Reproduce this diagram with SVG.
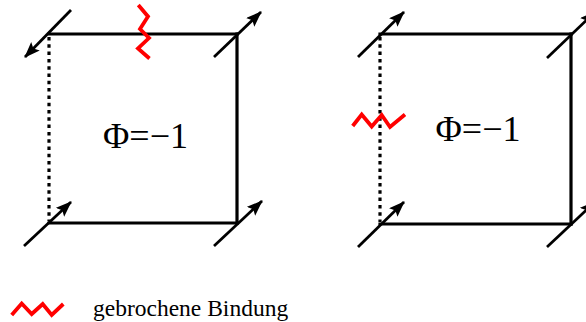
<svg xmlns="http://www.w3.org/2000/svg" width="586" height="322" viewBox="0 0 586 322">
<style>
.edge{stroke:#000;stroke-width:3.2;fill:none;stroke-linecap:square}
.dot{stroke:#000;stroke-width:3.2;fill:none;stroke-dasharray:3.5 3.8}
.spin{stroke:#000;stroke-width:2.8;fill:none;marker-end:url(#ah)}
.zz{stroke:#f00;stroke-width:3.8;fill:none;stroke-linejoin:miter}
.lbl{font-family:"Liberation Serif","Times New Roman",serif;fill:#000}
</style>
<defs>
<marker id="ah" markerUnits="userSpaceOnUse" markerWidth="18" markerHeight="14" refX="15" refY="6" orient="auto">
<path d="M0,0 L16,6 L0,12 L3,6 z" fill="#000"/>
</marker>
</defs>
<g id="connectors">
<line class="edge" x1="49" y1="34" x2="237" y2="34"/>
<line class="edge" x1="237" y1="34" x2="237" y2="223"/>
<line class="edge" x1="49" y1="223" x2="237" y2="223"/>
<line class="dot" x1="49" y1="37" x2="49" y2="221"/>
<line class="edge" x1="380" y1="34" x2="571" y2="34"/>
<line class="edge" x1="571" y1="34" x2="571" y2="224"/>
<line class="edge" x1="380" y1="224" x2="571" y2="224"/>
<line class="dot" x1="380" y1="37" x2="380" y2="222"/>
</g>
<g id="square1">
<line class="spin" x1="71" y1="10" x2="25" y2="57"/>
<line class="spin" x1="214" y1="57" x2="261" y2="12"/>
<line class="spin" x1="24" y1="246" x2="71" y2="202"/>
<line class="spin" x1="214" y1="246" x2="262" y2="201"/>
<polyline class="zz" points="138.3,5 148,16.5 140,29 149,38 138,48.5 149.5,58.5"/>
<text class="lbl" x="145.5" y="148" font-size="36" text-anchor="middle">Φ=−1</text>
</g>
<g id="square2">
<line class="spin" x1="358" y1="57" x2="404" y2="12"/>
<line class="spin" x1="547" y1="58" x2="595" y2="12"/>
<line class="spin" x1="358" y1="247" x2="404" y2="202"/>
<line class="spin" x1="547" y1="247" x2="595" y2="202"/>
<polyline class="zz" points="352.7,126 361.7,114.5 371.7,126.5 381.7,115 390,127 405,114.5"/>
<text class="lbl" x="478" y="141" font-size="36" text-anchor="middle">Φ=−1</text>
</g>
<g id="legend">
<polyline class="zz" points="11.7,315 21.7,303.5 31.7,314 42.7,304 51.7,315 63.3,304"/>
<text class="lbl" x="93" y="316" font-size="23.5">gebrochene Bindung</text>
</g>
</svg>
